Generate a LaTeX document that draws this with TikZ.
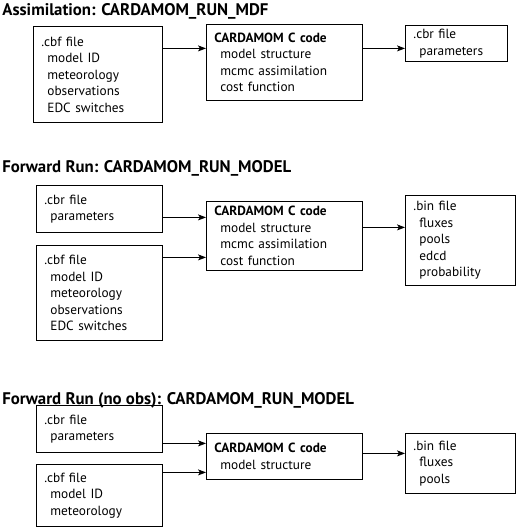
\documentclass[tikz,border=0pt]{standalone}
\usepackage{fontspec}
\setmainfont{PT Sans}
\usetikzlibrary{arrows.meta}

\newcommand{\ind}{\hspace*{6pt}}

\begin{document}
\begin{tikzpicture}[x=1pt, y=-1pt, line width=0.8pt, >={Stealth[length=8pt, width=6pt, inset=2pt]},
    title/.style={anchor=west, inner sep=2pt, font=\fontsize{16.8pt}{18pt}\selectfont\bfseries},
    filebox/.style={draw, rectangle, anchor=north west, align=left, inner xsep=8pt, inner ysep=0pt,
        font=\fontsize{13.3pt}{16.5pt}\selectfont}]
    \useasboundingbox (0,0) rectangle (517,527);

    % assimilation
    \node[title] (t1) at (0,11) {Assimilation: CARDAMOM\_RUN\_MDF};
    \node[filebox, text width=113pt, minimum height=96pt] (cbf1) at (33,26) {.cbf file\\\ind model ID\\\ind meteorology\\\ind observations\\\ind EDC switches};
    \node[filebox, text width=140pt, minimum height=76pt] (code1) at (206,24) {\textbf{CARDAMOM C code}\\\ind model structure\\\ind mcmc assimilation\\\ind cost function};
    \node[filebox, text width=86pt, minimum height=36pt] (cbr1) at (405,25) {.cbr file\\\ind parameters};

    \coordinate (in1) at ([yshift=14pt]code1.west);
    \coordinate (out1) at ([yshift=14pt]code1.east);
    \draw[->] (cbf1.east |- in1) -- (in1);
    \draw[->] (out1) -- (out1 -| cbr1.west);

    % forward run
    \node[title] (t2) at (0,168) {Forward Run: CARDAMOM\_RUN\_MODEL};
    \node[filebox, text width=110pt, minimum height=47pt] (cbr2) at (36,185) {.cbr file\\\ind parameters};
    \node[filebox, text width=110pt, minimum height=95pt] (cbf2) at (36,245) {.cbf file\\\ind model ID\\\ind meteorology\\\ind observations\\\ind EDC switches};
    \node[filebox, text width=140pt, minimum height=69pt] (code2) at (206,201) {\textbf{CARDAMOM C code}\\\ind model structure\\\ind mcmc assimilation\\\ind cost function};
    \node[filebox, text width=94pt, minimum height=90pt] (bin2) at (405,195) {.bin file\\\ind fluxes\\\ind pools\\\ind edcd\\\ind probability};

    \coordinate (in2a) at ([yshift=18.5pt]code2.west);
    \coordinate (in2b) at ([yshift=-21.5pt]code2.west);
    \coordinate (out2) at ([yshift=8.5pt]code2.east);
    \draw[->] (cbr2.east |- in2a) -- (in2a);
    \draw[->] (cbf2.east |- in2b) -- (in2b);
    \draw[->] (out2) -- (out2 -| bin2.west);

    % forward run without observations
    \node[title] (t3) at (0,400) {Forward Run (no obs): CARDAMOM\_RUN\_MODEL};
    \node[filebox, text width=110pt, minimum height=47pt] (cbr3) at (36,405) {.cbr file\\\ind parameters};
    \node[filebox, text width=110pt, minimum height=62pt] (cbf3) at (36,464) {.cbf file\\\ind model ID\\\ind meteorology};
    \node[filebox, text width=140pt, minimum height=46pt] (code3) at (206,433) {\textbf{CARDAMOM C code}\\\ind model structure};
    \node[filebox, text width=94pt, minimum height=60pt] (bin3) at (405,433) {.bin file\\\ind fluxes\\\ind pools};

    \coordinate (in3a) at ([yshift=13pt]code3.west);
    \coordinate (in3b) at ([yshift=-16pt]code3.west);
    \coordinate (out3) at ([yshift=3pt]code3.east);
    \draw[->] (cbr3.east |- in3a) -- (in3a);
    \draw[->] (cbf3.east |- in3b) -- (in3b);
    \draw[->] (out3) -- (out3 -| bin3.west);
\end{tikzpicture}
\end{document}
